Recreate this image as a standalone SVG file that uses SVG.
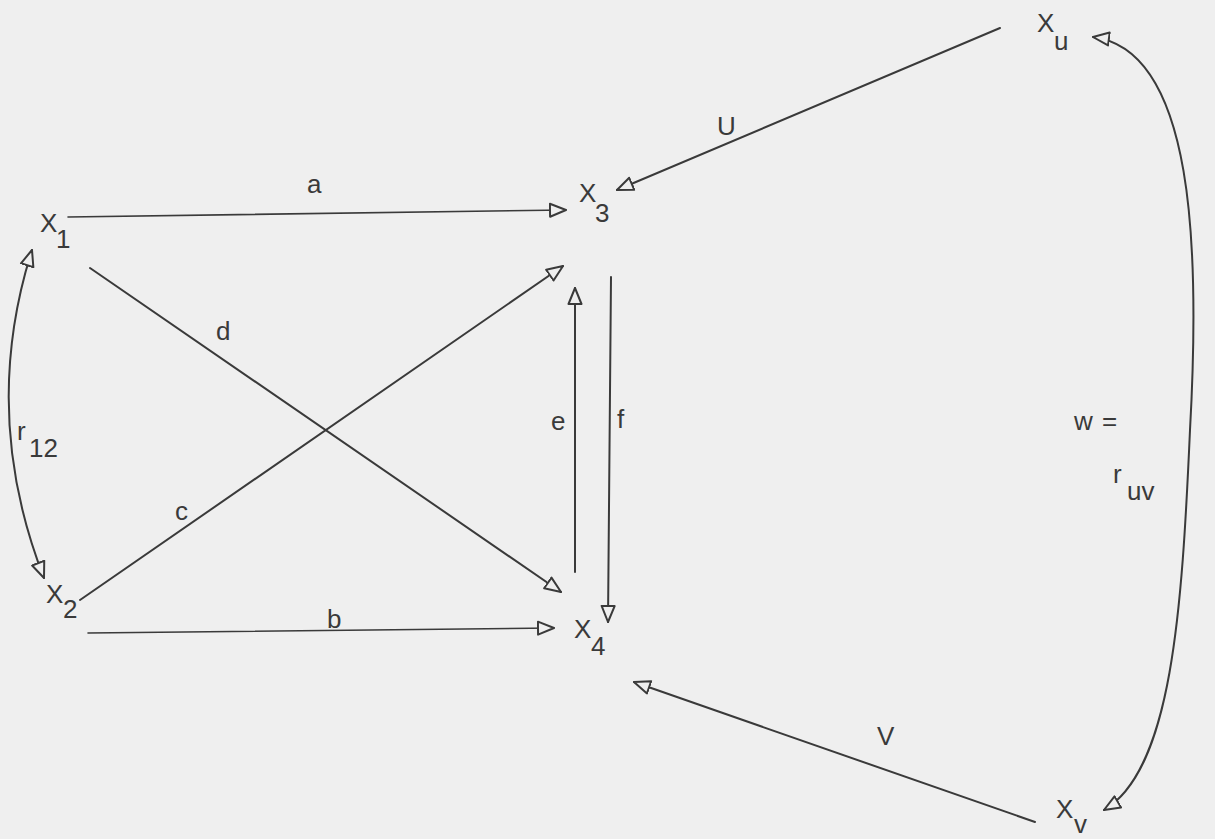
<svg xmlns="http://www.w3.org/2000/svg" width="1215" height="839" viewBox="0 0 1215 839">
<style>
  .t { font-family: "Liberation Sans", "DejaVu Sans", sans-serif; font-size: 26px; fill: #3a3a3a; }
  .ln { fill: none; stroke: #3a3a3a; stroke-width: 2; stroke-linecap: round; }
  .thin { stroke-width: 1.6; }
</style>
<defs>
  <marker id="ah" viewBox="0 0 18 16" refX="17" refY="8" markerWidth="18" markerHeight="16" markerUnits="userSpaceOnUse" orient="auto-start-reverse">
    <path d="M1,1.5 L17,8 L1,14.5 Z" fill="#efefef" stroke="#3a3a3a" stroke-width="2" stroke-linejoin="round"/>
  </marker>
</defs>
<rect width="1215" height="839" fill="#efefef"/>

<g id="connectors">
  <path id="edge-a" class="ln thin" d="M68,217 L566,210" marker-end="url(#ah)"/>
  <path id="edge-U" class="ln" d="M1000,28 L617,190" marker-end="url(#ah)"/>
  <path id="edge-d" class="ln" d="M90,268 L561,592" marker-end="url(#ah)"/>
  <path id="edge-c" class="ln" d="M80,600 L563,266" marker-end="url(#ah)"/>
  <path id="edge-e" class="ln" d="M575,572 L575,288" marker-end="url(#ah)"/>
  <path id="edge-f" class="ln" d="M611,277 L608,622" marker-end="url(#ah)"/>
  <path id="edge-b" class="ln thin" d="M88,633 L554,628" marker-end="url(#ah)"/>
  <path id="edge-V" class="ln" d="M1035,822 L634,682" marker-end="url(#ah)"/>
  <path id="edge-r12" class="ln" d="M32,250 Q-20,414 44,578" marker-start="url(#ah)" marker-end="url(#ah)"/>
  <path id="edge-w" class="ln" d="M1093,37 C1195,50 1200,250 1190,430 C1182,610 1172,770 1104,810" marker-start="url(#ah)" marker-end="url(#ah)"/>
  <text class="t" x="307" y="193">a</text>
  <text class="t" x="717" y="135">U</text>
  <text class="t" x="216" y="340">d</text>
  <text class="t" x="175" y="520">c</text>
  <text class="t" x="551" y="430">e</text>
  <text class="t" x="617" y="428">f</text>
  <text class="t" x="327" y="628">b</text>
  <text class="t" x="877" y="745">V</text>
  <text class="t" x="17" y="440">r</text>
  <text class="t" x="29" y="457">12</text>
  <text class="t" x="1074" y="430">w</text>
  <text class="t" x="1102" y="430">=</text>
  <text class="t" x="1113" y="483">r</text>
  <text class="t" x="1127" y="500">uv</text>
</g>

<g id="X1"><text class="t" x="40" y="232">X</text><text class="t" x="56" y="248">1</text></g>
<g id="X2"><text class="t" x="46" y="603">X</text><text class="t" x="63" y="618">2</text></g>
<g id="X3"><text class="t" x="579" y="202">X</text><text class="t" x="595" y="222">3</text></g>
<g id="X4"><text class="t" x="574" y="638">X</text><text class="t" x="591" y="655">4</text></g>
<g id="Xu"><text class="t" x="1037" y="32">X</text><text class="t" x="1054" y="50">u</text></g>
<g id="Xv"><text class="t" x="1056" y="818">X</text><text class="t" x="1074" y="833">v</text></g>
</svg>
